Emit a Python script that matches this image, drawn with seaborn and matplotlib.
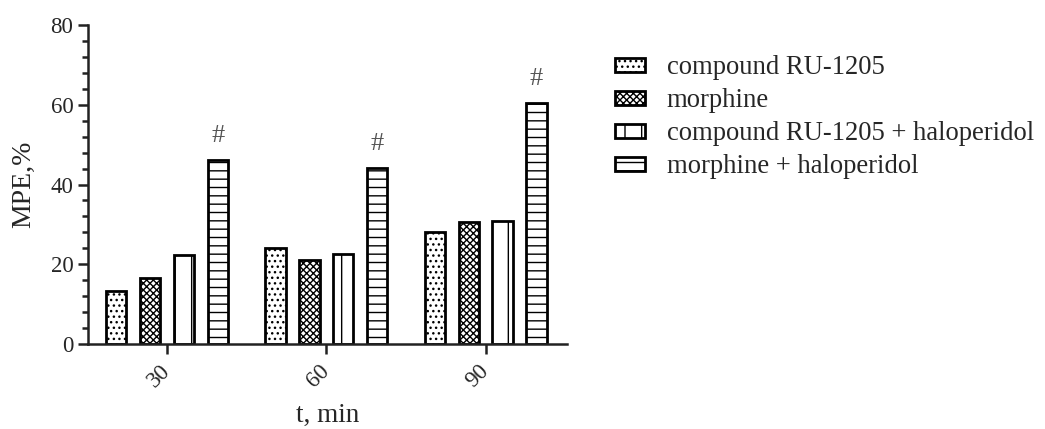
import matplotlib
matplotlib.use("Agg")
import matplotlib.pyplot as plt
from matplotlib.ticker import MultipleLocator
import numpy as np
import pandas as pd
import seaborn as sns

times = ["30", "60", "90"]
groups = ["compound RU-1205", "morphine",
          "compound RU-1205 + haloperidol", "morphine + haloperidol"]
ru1205 = [13.3, 24.1, 28.1]
morphine = [16.5, 21.2, 30.6]
ru1205_hal = [22.3, 22.7, 30.8]
morphine_hal = [46.1, 44.1, 60.4]
hatches = ["...", "xxxxx", "|", "--"]
marks = ["#", "#", "#"]

df = pd.DataFrame({
    "t": times * 4,
    "group": np.repeat(groups, 3),
    "MPE": ru1205 + morphine + ru1205_hal + morphine_hal,
})

sns.set_style("ticks")
plt.rcParams["font.family"] = ["Liberation Serif", "DejaVu Serif"]
plt.rcParams["hatch.linewidth"] = 1.0
plt.rcParams["hatch.color"] = "black"

fig = plt.figure(figsize=(10.45, 4.29), dpi=100)
ax = fig.add_axes([0.0842, 0.198, 0.4584, 0.7437])

sns.barplot(data=df, x="t", y="MPE", hue="group", hue_order=groups,
            palette=["white"] * 4, width=0.85, gap=0.4, legend=False,
            edgecolor="black", linewidth=2.0, saturation=1, ax=ax)

for cont, h in zip(ax.containers, hatches):
    for bar in cont:
        bar.set_hatch(h)
        bar.set_facecolor("white")
        bar.set_edgecolor("black")

# significance marks above the last series
for bar, m in zip(ax.containers[3], marks):
    ax.text(bar.get_x() + bar.get_width() / 2, bar.get_height() + 3.3, m,
            ha="center", va="bottom", fontsize=19, color="#555555")

ax.set_ylim(0, 80)
ax.set_xlim(-0.495, 2.51)
ax.yaxis.set_major_locator(MultipleLocator(20))
ax.yaxis.set_minor_locator(MultipleLocator(4))
ax.tick_params(axis="both", which="major", length=7, width=1.8, labelsize=16.5,
               color="#222222")
ax.tick_params(axis="x", pad=10)
ax.tick_params(axis="y", which="minor", length=4, width=1.8, color="#222222")
plt.setp(ax.get_xticklabels(), rotation=45, ha="right", va="center",
         rotation_mode="anchor")
ax.set_xlabel("t, min", fontsize=19.5)
ax.set_ylabel("MPE,%", fontsize=20)
ax.xaxis.set_label_coords(0.5, -0.186)
ax.yaxis.set_label_coords(-0.109, 0.5)
for s in ["left", "bottom"]:
    ax.spines[s].set_linewidth(1.8)
    ax.spines[s].set_color("#222222")
sns.despine(ax=ax)

handles = list(ax.containers[i][0] for i in range(4))
leg = fig.legend(handles, groups, loc="upper left",
                 bbox_to_anchor=(0.5754, 0.902), frameon=False,
                 fontsize=19.2, handlelength=1.15, handleheight=0.45,
                 handletextpad=0.8, labelspacing=0.3, borderpad=0)

fig.savefig("out.png", dpi=100)
